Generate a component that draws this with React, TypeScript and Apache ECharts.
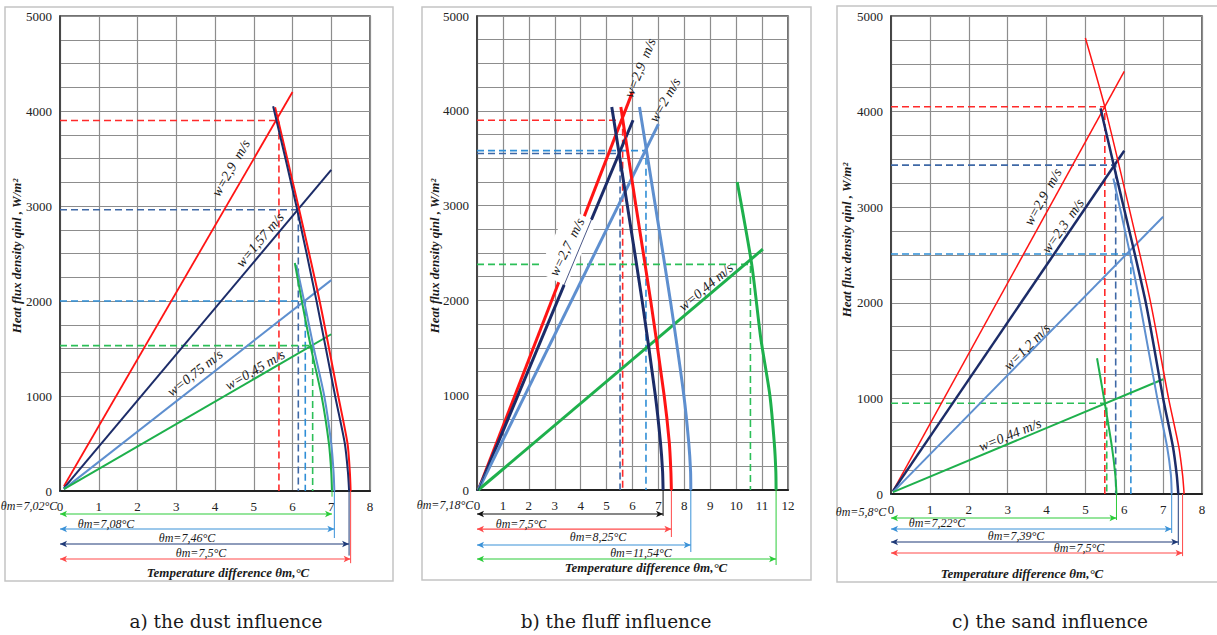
import React, { useEffect, useRef } from "react";
import * as echarts from "echarts";

// ---------- DATA ----------
const dustXMax = 8;
const fluffXMax = 12;
const sandXMax = 8;
const yMax = 5000;

// a) dust
const dustRiseRed = [[0.1, 50], [6.0, 4200]];
const dustRiseNavy = [[0.1, 30], [7.0, 3380]];
const dustRiseBlue = [[0.1, 20], [7.0, 2220]];
const dustRiseGreen = [[0.1, 20], [7.0, 1650]];
const dustFallRed = [[5.55, 4040], [6.15, 3000], [6.7, 2000], [7.18, 1000], [7.42, 500], [7.48, 200], [7.5, 0]];
const dustFallNavy = [[5.5, 4050], [6.1, 3000], [6.62, 2000], [7.1, 1000], [7.35, 500], [7.43, 200], [7.46, 0]];
const dustFallBlue = [[6.1, 2380], [6.3, 2000], [6.55, 1500], [6.82, 1000], [7.0, 500], [7.06, 200], [7.08, 0]];
const dustFallGreen = [[6.06, 2400], [6.24, 2000], [6.48, 1500], [6.75, 1000], [6.94, 500], [7.0, 200], [7.02, 0]];
const dustDashRed = [[0, 3900], [5.65, 3900], [5.65, 0]];
const dustDashNavy = [[0, 2960], [6.15, 2960], [6.15, 0]];
const dustDashBlue = [[0, 2000], [6.33, 2000], [6.33, 0]];
const dustDashGreen = [[0, 1530], [6.52, 1530], [6.52, 0]];
const dustTheta = [7.02, 7.08, 7.46, 7.5];
const dustSpeeds = ["w=2,9  m/s", "w=1,57 m/s", "w=0,75 m/s", "w=0,45 m/s"];

// b) fluff
const fluffRiseRed = [[0.05, 0], [6.0, 4200]];
const fluffRiseNavy = [[0.05, 0], [6.02, 3900]];
const fluffRiseBlue = [[0.05, 0], [7.0, 3860]];
const fluffRiseGreen = [[0.05, 0], [11.03, 2540]];
const fluffFallRed = [[5.55, 4040], [6.13, 3000], [6.7, 2000], [7.22, 1000], [7.42, 500], [7.48, 200], [7.5, 0]];
const fluffFallNavy = [[5.2, 4040], [5.8, 3000], [6.37, 2000], [6.88, 1000], [7.08, 500], [7.16, 200], [7.18, 0]];
const fluffFallBlue = [[6.27, 4040], [6.88, 3000], [7.46, 2000], [7.98, 1000], [8.17, 500], [8.24, 200], [8.25, 0]];
const fluffFallGreen = [[10.04, 3250], [10.6, 2380], [10.95, 1600], [11.3, 1000], [11.47, 500], [11.53, 200], [11.54, 0]];
const fluffDashRed = [[0, 3900], [5.62, 3900], [5.62, 0]];
const fluffDashNavy = [[0, 3550], [5.52, 3550], [5.52, 0]];
const fluffDashBlue = [[0, 3580], [6.52, 3580], [6.52, 0]];
const fluffDashGreen = [[0, 2380], [10.55, 2380], [10.55, 0]];
const fluffTheta = [7.18, 7.5, 8.25, 11.54];
const fluffSpeeds = ["w=2,9  m/s", "w=2 m/s", "w=2,7  m/s", "w=0,44 m/s"];

// c) sand
const sandRiseRed = [[0.05, 30], [6.0, 4420]];
const sandRiseNavy = [[0.05, 30], [6.0, 3590]];
const sandRiseBlue = [[0.05, 20], [7.0, 2900]];
const sandRiseGreen = [[0.05, 20], [7.0, 1200]];
const sandFallRed = [[5.0, 4770], [5.5, 4050], [6.12, 3000], [6.68, 2000], [7.14, 1000], [7.4, 500], [7.5, 200], [7.54, 0]];
const sandFallNavy = [[5.39, 4034], [5.73, 3440], [6.54, 2029], [7.0, 1000], [7.25, 500], [7.35, 200], [7.39, 0]];
const sandFallBlue = [[5.72, 3300], [6.15, 2510], [6.4, 2000], [6.85, 1000], [7.1, 500], [7.2, 200], [7.22, 0]];
const sandFallGreen = [[5.3, 1420], [5.5, 950], [5.68, 500], [5.77, 200], [5.8, 0]];
const sandDashRed = [[0, 4050], [5.5, 4050], [5.5, 0]];
const sandDashNavy = [[0, 3440], [5.78, 3440], [5.78, 0]];
const sandDashBlue = [[0, 2510], [6.17, 2510], [6.17, 0]];
const sandDashGreen = [[0, 950], [5.55, 950], [5.55, 0]];
const sandTheta = [5.8, 7.22, 7.39, 7.5];
const sandSpeeds = ["w=2,9  m/s", "w=2,3  m/s", "w=1,2 m/s", "w=0,44 m/s"];

const captions = ["a) the dust influence", "b) the fluff influence", "c) the sand influence"];
const yTitle = "Heat flux density qinl , W/m²";
const xTitle = "Temperature difference θm,°C";

// ---------- STYLE ----------
const RED = "#ff1414";
const NAVY = "#1c2c68";
const STEEL = "#5e8fcf";
const GREEN = "#1eb04c";
const D_RED = "#ff2a2a";
const D_NAVY = "#3e68a6";
const D_BLUE = "#2f8ed6";
const D_GREEN = "#2cbf58";
const A_GREEN = "#2ccc3a";
const A_BLUE = "#3a92d8";
const A_NAVY = "#1f3a78";
const A_RED = "#ff4a4a";
const SERIF = '"Liberation Serif", "Times New Roman", serif';

const thetaText = (v: number) => "θm=" + String(v).replace(".", ",") + "°C";

function solid(data: number[][], color: string, width: number, gi: number, smooth: number | boolean = false, z = 3) {
  return {
    type: "line", xAxisIndex: gi, yAxisIndex: gi, data, symbol: "none", smooth,
    lineStyle: { color, width }, silent: true, z,
  };
}
function dashed(data: number[][], color: string, gi: number) {
  return {
    type: "line", xAxisIndex: gi, yAxisIndex: gi, data, symbol: "none",
    lineStyle: { color, width: 1.6, type: [7, 4] }, silent: true, z: 2,
  };
}
function dim(theta: number, level: number, ext: number, color: string, gi: number) {
  return [
    {
      type: "line", xAxisIndex: gi, yAxisIndex: gi, clip: false, silent: true, z: 4,
      data: [
        { value: [0, level], symbol: "arrow", symbolRotate: 90 },
        { value: [theta, level], symbol: "arrow", symbolRotate: -90 },
      ],
      symbolSize: [5, 7], showSymbol: true,
      itemStyle: { color }, lineStyle: { color, width: 1.2 },
    },
    {
      type: "line", xAxisIndex: gi, yAxisIndex: gi, clip: false, silent: true, z: 4,
      data: [[theta, 0], [theta, ext]], symbol: "none",
      lineStyle: { color, width: 1 },
    },
  ];
}

function txt(text: string, x: number, y: number, opts: any = {}) {
  return {
    type: "text", x, y, rotation: ((opts.rot || 0) * Math.PI) / 180, z: opts.z || 50,
    style: {
      text, fill: opts.color || "#1a1a1a",
      font: opts.font || `italic 12px ${SERIF}`,
      align: "center", verticalAlign: "middle", textAlign: "center", textVerticalAlign: "middle",
      backgroundColor: opts.bg, padding: opts.pad,
    },
  };
}

const xAxisBase = (gi: number, max: number) => ({
  type: "value", gridIndex: gi, min: 0, max, interval: 1,
  axisLine: { show: true, lineStyle: { color: "#222", width: 2 } },
  axisTick: { show: false },
  axisLabel: { color: "#222", fontFamily: SERIF, fontSize: 13, margin: 9 },
  splitLine: { show: true, lineStyle: { color: "#8d8d8d", width: 1.2 } },
});
const yAxisBase = (gi: number) => ({
  type: "value", gridIndex: gi, min: 0, max: yMax, interval: 250,
  axisLine: { show: true, lineStyle: { color: "#333", width: 1.5 } },
  axisTick: { show: false },
  axisLabel: {
    color: "#222", fontFamily: SERIF, fontSize: 13, margin: 8,
    formatter: (v: number) => (v % 1000 === 0 ? String(v) : ""),
  },
  splitLine: { show: true, lineStyle: { color: "#8d8d8d", width: 1.2 } },
});

const capFont = `18.5px "DejaVu Serif", serif`;
const wFont = `italic 14px ${SERIF}`;
const tFont = `italic bold 13px ${SERIF}`;
const SM = 0.25;

const option: any = {
  animation: false,
  backgroundColor: "#fff",
  grid: [
    { left: 60, top: 16, width: 310, height: 475, show: true, borderColor: "#444", borderWidth: 1.5 },
    { left: 477, top: 16, width: 311, height: 474, show: true, borderColor: "#444", borderWidth: 1.5 },
    { left: 891, top: 16, width: 311, height: 478, show: true, borderColor: "#444", borderWidth: 1.5 },
  ],
  xAxis: [xAxisBase(0, dustXMax), xAxisBase(1, fluffXMax), xAxisBase(2, sandXMax)],
  yAxis: [yAxisBase(0), yAxisBase(1), yAxisBase(2)],
  series: [
    // a
    dashed(dustDashRed, D_RED, 0),
    dashed(dustDashNavy, D_NAVY, 0),
    dashed(dustDashBlue, D_BLUE, 0),
    dashed(dustDashGreen, D_GREEN, 0),
    solid(dustRiseRed, RED, 1.8, 0),
    solid(dustRiseNavy, NAVY, 2, 0),
    solid(dustRiseBlue, STEEL, 2, 0),
    solid(dustRiseGreen, GREEN, 2, 0),
    solid(dustFallRed, RED, 2, 0, SM),
    solid(dustFallNavy, NAVY, 2, 0, SM),
    solid(dustFallBlue, STEEL, 2, 0, SM),
    solid(dustFallGreen, GREEN, 2, 0, SM),
    ...dim(dustTheta[0], -242, -60, A_GREEN, 0),
    ...dim(dustTheta[1], -400, -495, A_BLUE, 0),
    ...dim(dustTheta[2], -558, -680, A_NAVY, 0),
    ...dim(dustTheta[3], -716, -760, A_RED, 0),
    solid([[0, 0], [0, -740]], A_BLUE, 1, 0, false, 4),
    // b
    dashed(fluffDashRed, D_RED, 1),
    dashed(fluffDashNavy, D_NAVY, 1),
    dashed(fluffDashBlue, D_BLUE, 1),
    dashed(fluffDashGreen, D_GREEN, 1),
    solid(fluffRiseRed, RED, 3, 1),
    solid(fluffRiseNavy, NAVY, 3, 1),
    solid(fluffRiseBlue, STEEL, 3, 1),
    solid(fluffRiseGreen, GREEN, 3, 1),
    solid(fluffFallRed, RED, 3, 1, SM),
    solid(fluffFallNavy, NAVY, 3, 1, SM),
    solid(fluffFallBlue, STEEL, 3, 1, SM),
    solid(fluffFallGreen, GREEN, 3, 1, SM),
    solid(fluffRiseNavy, NAVY, 0.8, 1, false, 60),
    ...dim(fluffTheta[0], -253, -274, "#111", 1),
    ...dim(fluffTheta[1], -412, -496, A_RED, 1),
    ...dim(fluffTheta[2], -580, -654, A_BLUE, 1),
    ...dim(fluffTheta[3], -728, -791, A_GREEN, 1),
    solid([[0, 0], [0, -790]], A_BLUE, 1, 1, false, 4),
    // c
    dashed(sandDashRed, D_RED, 2),
    dashed(sandDashNavy, D_NAVY, 2),
    dashed(sandDashBlue, D_BLUE, 2),
    dashed(sandDashGreen, D_GREEN, 2),
    solid(sandRiseRed, RED, 1.5, 2),
    solid(sandRiseNavy, NAVY, 2.5, 2),
    solid(sandRiseBlue, STEEL, 2, 2),
    solid(sandRiseGreen, GREEN, 2, 2),
    solid(sandFallRed, RED, 1.5, 2, SM),
    solid(sandFallNavy, NAVY, 2.5, 2, SM),
    solid(sandFallBlue, STEEL, 2, 2, SM),
    solid(sandFallGreen, GREEN, 2, 2, SM),
    ...dim(sandTheta[0], -251, -272, A_GREEN, 2),
    ...dim(sandTheta[1], -366, -408, A_BLUE, 2),
    ...dim(sandTheta[2], -502, -533, A_NAVY, 2),
    ...dim(sandTheta[3], -617, -650, A_RED, 2),
    solid([[0, 0], [0, -650]], A_BLUE, 1, 2, false, 4),
  ],
  graphic: [
    // panel frames
    { type: "rect", shape: { x: 5, y: 7, width: 388, height: 574 }, style: { fill: "none", stroke: "#c4c4c4", lineWidth: 1.5 }, z: 0 },
    { type: "rect", shape: { x: 422, y: 7, width: 389, height: 573 }, style: { fill: "none", stroke: "#c4c4c4", lineWidth: 1.5 }, z: 0 },
    { type: "rect", shape: { x: 837, y: 6, width: 400, height: 576 }, style: { fill: "none", stroke: "#c4c4c4", lineWidth: 1.5 }, z: 0 },
    // y titles
    txt(yTitle, 16, 256, { rot: 90, font: tFont }),
    txt(yTitle, 434, 256, { rot: 90, font: tFont }),
    txt(yTitle, 846, 240, { rot: 90, font: tFont }),
    // x titles
    txt(xTitle, 228, 572, { font: tFont }),
    txt(xTitle, 646, 567, { font: tFont }),
    txt(xTitle, 1022, 573, { font: tFont }),
    // dimension labels a
    txt(thetaText(dustTheta[0]), 29, 506),
    txt(thetaText(dustTheta[1]), 106, 524),
    txt(thetaText(dustTheta[2]), 187, 538),
    txt(thetaText(dustTheta[3]), 201, 553),
    // b
    txt(thetaText(fluffTheta[0]), 445, 505),
    txt(thetaText(fluffTheta[1]), 521, 524),
    txt(thetaText(fluffTheta[2]), 598, 537),
    txt(thetaText(fluffTheta[3]), 641, 553),
    // c
    txt(thetaText(sandTheta[0]), 861, 512),
    txt(thetaText(sandTheta[1]), 937, 523),
    txt(thetaText(sandTheta[2]), 1016, 536),
    txt(thetaText(sandTheta[3]), 1079, 548),
    // line labels a
    txt(dustSpeeds[0], 231, 168, { rot: 60, font: wFont }),
    txt(dustSpeeds[1], 260, 240, { rot: 50, font: wFont }),
    txt(dustSpeeds[2], 195, 373, { rot: 38, font: wFont }),
    txt(dustSpeeds[3], 255, 370, { rot: 30, font: wFont }),
    // line labels b
    txt(fluffSpeeds[0], 640, 68, { rot: 68, font: wFont }),
    txt(fluffSpeeds[1], 665, 100, { rot: 60, font: wFont }),
    txt(fluffSpeeds[2], 567, 247, { rot: 64, font: wFont, bg: "#fff", pad: [2, 4, 16, 4] }),
    txt(fluffSpeeds[3], 706, 287, { rot: 40, font: wFont }),
    // line labels c
    txt(sandSpeeds[0], 1043, 197, { rot: 61, font: wFont }),
    txt(sandSpeeds[1], 1063, 226, { rot: 55, font: wFont }),
    txt(sandSpeeds[2], 1027, 347, { rot: 45, font: wFont }),
    txt(sandSpeeds[3], 1010, 435, { rot: 22, font: wFont }),
    // captions
    txt(captions[0], 226, 621, { font: capFont, color: "#1a1a1a" }),
    txt(captions[1], 616, 621, { font: capFont, color: "#1a1a1a" }),
    txt(captions[2], 1050, 621, { font: capFont, color: "#1a1a1a" }),
  ],
};

export default function App() {
  const ref = useRef<HTMLDivElement>(null);
  useEffect(() => {
    document.body.style.margin = "0";
    const chart = echarts.init(ref.current as HTMLDivElement, null, { renderer: "svg" });
    chart.setOption(option);
    return () => chart.dispose();
  }, []);
  return <div ref={ref} style={{ width: 1217, height: 635 }} />;
}
